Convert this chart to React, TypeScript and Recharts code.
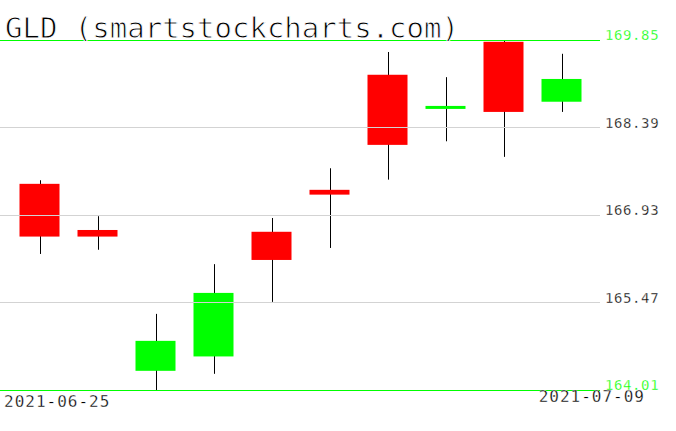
import React from "react";
import { ComposedChart, Bar, XAxis, YAxis, ReferenceLine } from "recharts";

const dates = [
  "2021-06-25", "2021-06-28", "2021-06-29", "2021-06-30", "2021-07-01",
  "2021-07-02", "2021-07-06", "2021-07-07", "2021-07-08", "2021-07-09",
];
const opens = [167.45, 166.68, 164.33, 164.57, 166.65, 167.35, 169.27, 168.7, 169.82, 168.82];
const highs = [167.51, 166.91, 165.28, 166.11, 166.88, 167.71, 169.65, 169.23, 169.85, 169.62];
const lows = [166.28, 166.35, 164.01, 164.28, 165.48, 166.38, 167.52, 168.16, 167.9, 168.65];
const closes = [166.57, 166.57, 164.83, 165.63, 166.18, 167.27, 168.1, 168.75, 168.65, 169.2];
const yTicks = [164.01, 165.47, 166.93, 168.39, 169.85];
const title = "GLD (smartstockcharts.com)";

const data = dates.map((d, i) => ({
  date: d,
  open: opens[i],
  high: highs[i],
  low: lows[i],
  close: closes[i],
  range: [lows[i], highs[i]],
}));

const UP = "#00ff00";
const DOWN = "#ff0000";
const MONO = "'DejaVu Sans Mono', monospace";

const Candle = (props: any) => {
  const { x, y, width, height, payload } = props;
  const { open, close, high, low } = payload;
  const k = height / (high - low);
  const cx = Math.round(x + width / 2) + 0.5;
  const top = y + (high - Math.max(open, close)) * k;
  const bottom = y + (high - Math.min(open, close)) * k;
  const color = close >= open ? UP : DOWN;
  return (
    <g>
      <line x1={cx} x2={cx} y1={y} y2={y + height} stroke="#000" strokeWidth={1} />
      <rect x={x} y={top} width={width} height={Math.max(bottom - top, 2)} fill={color} />
    </g>
  );
};

const YTick = (props: any) => {
  const { y, payload } = props;
  const edge = payload.value === yTicks[0] || payload.value === yTicks[yTicks.length - 1];
  return (
    <text
      x={605}
      y={y}
      fill={edge ? UP : "#000"}
      fontFamily={MONO}
      fontSize={14}
      letterSpacing={0.6}
      textAnchor="start"
      stroke="#fff"
      strokeWidth={0.3}
    >
      {payload.value.toFixed(2)}
    </text>
  );
};

const XTick = (props: any) => {
  const { payload } = props;
  const first = payload.value === dates[0];
  return (
    <text
      x={first ? 4 : 645}
      y={first ? 407 : 402}
      fill="#000"
      fontFamily={MONO}
      fontSize={16}
      letterSpacing={1}
      textAnchor={first ? "start" : "end"}
      stroke="#fff"
      strokeWidth={0.3}
    >
      {payload.value}
    </text>
  );
};

export default function App() {
  return (
    <div style={{ position: "absolute", left: 0, top: 0, width: 676, height: 431, background: "#fff" }}>
      <ComposedChart
        width={676}
        height={431}
        data={data}
        margin={{ top: 40, right: 0, bottom: 0, left: 0 }}
      >
        <XAxis
          dataKey="date"
          type="category"
          padding={{ left: 10.5, right: 9.5 }}
          ticks={[dates[0], dates[dates.length - 1]]}
          interval={0}
          axisLine={false}
          tickLine={false}
          tick={<XTick />}
          height={41}
        />
        <YAxis
          orientation="right"
          domain={[yTicks[0], yTicks[yTicks.length - 1]]}
          ticks={yTicks}
          interval={0}
          axisLine={false}
          tickLine={false}
          tick={<YTick />}
          width={76}
          allowDataOverflow
        />
        <Bar dataKey="range" barSize={40} shape={<Candle />} isAnimationActive={false} />
        {yTicks.slice(1, -1).map((t) => (
          <ReferenceLine key={t} y={t} stroke="#d3d3d3" strokeWidth={1} shapeRendering="crispEdges" />
        ))}
        <ReferenceLine y={yTicks[0]} stroke={UP} strokeWidth={1} shapeRendering="crispEdges" />
        <ReferenceLine y={yTicks[yTicks.length - 1]} stroke={UP} strokeWidth={1} shapeRendering="crispEdges" />
      </ComposedChart>
      <svg width={676} height={60} style={{ position: "absolute", left: 0, top: 0, pointerEvents: "none" }}>
        <text x={5} y={38} fontFamily={MONO} fontSize={29} fill="#000" stroke="#fff" strokeWidth={0.9}>
          {title}
        </text>
      </svg>
    </div>
  );
}
